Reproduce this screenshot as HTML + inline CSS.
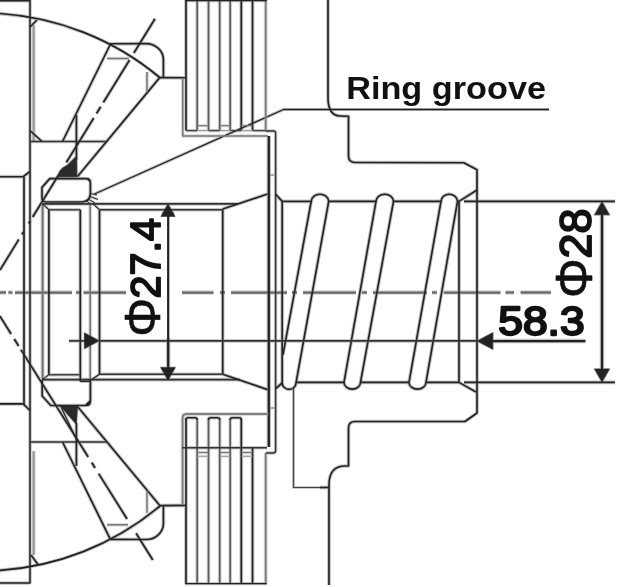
<!DOCTYPE html>
<html><head><meta charset="utf-8"><title>Ring groove</title>
<style>
html,body{margin:0;padding:0;background:#fff;}
svg{display:block;font-family:"Liberation Sans",sans-serif;}
text{fill:#111;}
</style></head><body>
<svg width="640" height="587" viewBox="0 0 640 587" stroke-linecap="butt" stroke-linejoin="round">
<rect x="-10" y="-10" width="660" height="607" fill="#fff"/>
<g opacity="0.27" stroke-linecap="butt">
<line x1="-4" y1="292.5" x2="6" y2="292.5" stroke="#666" stroke-width="4.5" />
<line x1="8.4" y1="292.5" x2="12.4" y2="292.5" stroke="#666" stroke-width="4.5" />
<line x1="15" y1="292.5" x2="72" y2="292.5" stroke="#666" stroke-width="4.5" />
<line x1="76" y1="292.5" x2="80" y2="292.5" stroke="#666" stroke-width="4.5" />
<line x1="83.6" y1="292.5" x2="140.6" y2="292.5" stroke="#666" stroke-width="4.5" />
<line x1="145" y1="292.5" x2="150" y2="292.5" stroke="#666" stroke-width="4.5" />
<line x1="156.5" y1="292.5" x2="213.5" y2="292.5" stroke="#666" stroke-width="4.5" />
<line x1="220" y1="292.5" x2="225" y2="292.5" stroke="#666" stroke-width="4.5" />
<line x1="231" y1="292.5" x2="287" y2="292.5" stroke="#666" stroke-width="4.5" />
<line x1="292" y1="292.5" x2="297" y2="292.5" stroke="#666" stroke-width="4.5" />
<line x1="303" y1="292.5" x2="356" y2="292.5" stroke="#666" stroke-width="4.5" />
<line x1="362" y1="292.5" x2="367" y2="292.5" stroke="#666" stroke-width="4.5" />
<line x1="373" y1="292.5" x2="427" y2="292.5" stroke="#666" stroke-width="4.5" />
<line x1="432" y1="292.5" x2="437" y2="292.5" stroke="#666" stroke-width="4.5" />
<line x1="443.7" y1="292.5" x2="500.5" y2="292.5" stroke="#666" stroke-width="4.5" />
<line x1="505.5" y1="292.5" x2="514" y2="292.5" stroke="#666" stroke-width="4.5" />
<line x1="520.6" y1="292.5" x2="551" y2="292.5" stroke="#666" stroke-width="4.5" />
<rect x="126" y="214" width="56" height="124" fill="#fff"/>
<line x1="-4" y1="0.75" x2="30" y2="0.75" stroke="#222" stroke-width="3.7" />
<line x1="30" y1="-4" x2="30" y2="583.5" stroke="#222" stroke-width="3.5" />
<line x1="-4" y1="583" x2="30" y2="583" stroke="#222" stroke-width="3.7" />
<line x1="33.6" y1="25" x2="33.6" y2="141" stroke="#999" stroke-width="4.5" />
<line x1="33.6" y1="451" x2="33.6" y2="555" stroke="#999" stroke-width="4.5" />
<path d="M-4,13.3 A278,278 0 0 1 159.7,77.5" stroke="#222" stroke-width="3.7" fill="none" />
<path d="M-4,570.6 A278,278 0 0 0 160,506" stroke="#222" stroke-width="3.7" fill="none" />
<path d="M110,43.8 L146,43.6 A17.5,16 0 0 1 163.4,59 L163.4,77.5 M159.7,77.6 L186,77.8" stroke="#222" stroke-width="3.7" fill="none" />
<path d="M110,539.3 L146,539.5 A17.5,16 0 0 0 163.4,523.5 L163.4,505.7 M160,505.6 L186,505.4" stroke="#222" stroke-width="3.7" fill="none" />
<line x1="110" y1="45" x2="62.5" y2="141.5" stroke="#222" stroke-width="3.7" />
<line x1="110" y1="538.6" x2="62.5" y2="442" stroke="#222" stroke-width="3.7" />
<line x1="159.7" y1="77.6" x2="77.5" y2="176.5" stroke="#222" stroke-width="3.7" />
<line x1="160" y1="505.8" x2="77.5" y2="406.5" stroke="#222" stroke-width="3.7" />
<line x1="155.0" y1="18.75" x2="133.87" y2="53" stroke="#222" stroke-width="3.7" />
<line x1="129.55" y1="60" x2="103.33" y2="102.5" stroke="#222" stroke-width="3.7" />
<line x1="100.67" y1="106.8" x2="96.54" y2="113.5" stroke="#222" stroke-width="3.7" />
<line x1="93.76" y1="118" x2="66.31" y2="162.5" stroke="#222" stroke-width="3.7" />
<line x1="59.36" y1="173.75" x2="32.68" y2="217" stroke="#222" stroke-width="3.7" />
<line x1="30.21" y1="221" x2="28.67" y2="223.5" stroke="#222" stroke-width="3.7" />
<line x1="23.42" y1="232" x2="21.88" y2="234.5" stroke="#222" stroke-width="3.7" />
<line x1="18.86" y1="239.4" x2="-0.02" y2="270" stroke="#222" stroke-width="3.7" />
<line x1="-0.19" y1="316" x2="11.1" y2="334" stroke="#222" stroke-width="3.7" />
<line x1="14.23" y1="339" x2="18.62" y2="346" stroke="#222" stroke-width="3.7" />
<line x1="20.88" y1="349.6" x2="88.22" y2="457" stroke="#222" stroke-width="3.7" />
<line x1="91.67" y1="462.5" x2="95.12" y2="468" stroke="#222" stroke-width="3.7" />
<line x1="98.63" y1="473.6" x2="127.09" y2="519" stroke="#222" stroke-width="3.7" />
<line x1="136.06" y1="533.3" x2="152.8" y2="560" stroke="#222" stroke-width="3.7" />
<line x1="107" y1="58.5" x2="129" y2="58.5" stroke="#777" stroke-width="3.5" />
<line x1="147" y1="72" x2="147" y2="92" stroke="#777" stroke-width="3.5" />
<line x1="107" y1="524.8" x2="128" y2="524.8" stroke="#777" stroke-width="3.5" />
<line x1="147" y1="490.4" x2="147" y2="512.8" stroke="#777" stroke-width="3.5" />
<line x1="30" y1="141.4" x2="107.5" y2="141.4" stroke="#333" stroke-width="3.5" />
<line x1="30" y1="442" x2="107" y2="442" stroke="#333" stroke-width="3.5" />
<line x1="30.5" y1="131" x2="42" y2="141.5" stroke="#222" stroke-width="3.7" />
<line x1="30" y1="27" x2="37" y2="20" stroke="#222" stroke-width="3.7" />
<line x1="31" y1="555" x2="38" y2="564.6" stroke="#222" stroke-width="3.7" />
<line x1="76.4" y1="115" x2="76.4" y2="160" stroke="#222" stroke-width="3.7" />
<line x1="76.4" y1="466" x2="76.4" y2="423" stroke="#222" stroke-width="3.7" />
<path d="M58,176.8 L59.6,171.8 L62,168.6 L67.5,165.2 L75.4,157.2 L76.6,156.6 L76.8,176.8 Z" stroke="#2a2a2a" stroke-width="2.3" fill="none" />
<path d="M58.3,405.6 L77.5,405.6 L76.2,424 L61.7,407.5 Z" stroke="#2a2a2a" stroke-width="2.3" fill="none" />
<line x1="61.5" y1="408" x2="77" y2="440.5" stroke="#222" stroke-width="3.1" />
<path d="M-4,176.7 L23.2,176.7 L30,171.5" stroke="#222" stroke-width="3.7" fill="none" />
<line x1="24" y1="176.7" x2="24" y2="404" stroke="#222" stroke-width="3.7" />
<path d="M-4,403.8 L23.2,403.8 L30,410.5" stroke="#222" stroke-width="3.7" fill="none" />
<path d="M42,187.4 L49.8,178.6 L86,178.6 Q90.4,178.6 90.4,183 L90.4,193.4 Q90,202 81.6,202 L46.5,202 Q42,202 42,198 Z" stroke="#222" stroke-width="3.7" fill="none" />
<path d="M42.2,380 L42.2,396 L50.8,405.5 L86,405.5 Q90.4,405.5 90.4,401 L90.4,381" stroke="#222" stroke-width="3.7" fill="none" />
<line x1="86" y1="405.2" x2="90.4" y2="401" stroke="#222" stroke-width="4.0" />
<line x1="89" y1="196" x2="98" y2="199.5" stroke="#222" stroke-width="2.7" />
<line x1="90.5" y1="193.5" x2="97" y2="195" stroke="#222" stroke-width="2.7" />
<line x1="88" y1="199" x2="95" y2="203" stroke="#222" stroke-width="2.7" />
<line x1="86" y1="200.5" x2="91" y2="204.5" stroke="#222" stroke-width="2.7" />
<line x1="87" y1="179" x2="91" y2="182" stroke="#222" stroke-width="2.7" />
<line x1="42.6" y1="203" x2="42.6" y2="380" stroke="#6e6e6e" stroke-width="4.1" />
<line x1="48.9" y1="209.7" x2="48.9" y2="374.7" stroke="#222" stroke-width="3.7" />
<line x1="80.3" y1="209.7" x2="80.3" y2="381.5" stroke="#222" stroke-width="3.7" />
<line x1="90.2" y1="203" x2="90.2" y2="381" stroke="#777" stroke-width="3.7" />
<line x1="99.5" y1="209.7" x2="99.5" y2="374.2" stroke="#222" stroke-width="3.7" />
<line x1="42" y1="203.9" x2="237.5" y2="203.9" stroke="#333" stroke-width="3.7" />
<line x1="48.9" y1="209.7" x2="80.3" y2="209.7" stroke="#444" stroke-width="3.5" />
<line x1="99.5" y1="209.7" x2="222.7" y2="209.7" stroke="#333" stroke-width="3.5" />
<line x1="42.6" y1="203.9" x2="48.9" y2="209.7" stroke="#222" stroke-width="2.9" />
<line x1="92.9" y1="203.7" x2="99.5" y2="209.7" stroke="#222" stroke-width="2.9" />
<line x1="222.7" y1="209" x2="267.5" y2="194" stroke="#222" stroke-width="3.7" />
<line x1="222.7" y1="209.4" x2="222.7" y2="374.2" stroke="#222" stroke-width="3.7" />
<line x1="42" y1="379.6" x2="240" y2="379.6" stroke="#333" stroke-width="3.7" />
<line x1="48.9" y1="374.7" x2="80.3" y2="374.7" stroke="#444" stroke-width="3.5" />
<line x1="99.5" y1="374.2" x2="222.7" y2="374.2" stroke="#333" stroke-width="3.5" />
<line x1="42.6" y1="379.6" x2="48.9" y2="374.7" stroke="#222" stroke-width="2.9" />
<line x1="99.5" y1="374.2" x2="90.2" y2="380.5" stroke="#222" stroke-width="3.1" />
<line x1="80.3" y1="381.3" x2="90.4" y2="381.3" stroke="#222" stroke-width="3.3" />
<line x1="222.7" y1="374.2" x2="267.5" y2="389.6" stroke="#222" stroke-width="3.7" />
<path d="M94.5,194 L283.5,109.5 L549,109.5" stroke="#222" stroke-width="3.2" fill="none" />
<line x1="186" y1="-4" x2="186" y2="130.6" stroke="#222" stroke-width="3.7" />
<line x1="197.2" y1="-4" x2="197.2" y2="130.6" stroke="#5a5a5a" stroke-width="3.7" />
<line x1="208.5" y1="-4" x2="208.5" y2="130.6" stroke="#5a5a5a" stroke-width="3.7" />
<line x1="219.7" y1="-4" x2="219.7" y2="130.6" stroke="#5a5a5a" stroke-width="3.7" />
<line x1="230.2" y1="-4" x2="230.2" y2="130.6" stroke="#5a5a5a" stroke-width="3.7" />
<line x1="241.3" y1="-4" x2="241.3" y2="130.6" stroke="#222" stroke-width="3.7" />
<line x1="252.5" y1="-4" x2="252.5" y2="130.6" stroke="#222" stroke-width="3.7" />
<line x1="265.7" y1="-4" x2="265.7" y2="130.6" stroke="#7a7a7a" stroke-width="3.9" />
<line x1="185" y1="0.6" x2="266.8" y2="0.6" stroke="#222" stroke-width="3.1" />
<line x1="182.75" y1="78.2" x2="182.75" y2="136" stroke="#777" stroke-width="3.5" />
<line x1="182" y1="136" x2="268" y2="136" stroke="#777" stroke-width="3.7" />
<line x1="186" y1="130.6" x2="197.2" y2="130.6" stroke="#444" stroke-width="3.3" />
<line x1="208.5" y1="130.6" x2="219.7" y2="130.6" stroke="#444" stroke-width="3.3" />
<line x1="230.2" y1="130.6" x2="241.3" y2="130.6" stroke="#444" stroke-width="3.3" />
<line x1="252.5" y1="130.6" x2="265.7" y2="130.6" stroke="#444" stroke-width="3.3" />
<line x1="197.2" y1="125.7" x2="208.5" y2="125.7" stroke="#777" stroke-width="3.1" />
<line x1="197.2" y1="130.6" x2="208.5" y2="130.6" stroke="#999" stroke-width="2.9" />
<line x1="219.7" y1="125.7" x2="230.2" y2="125.7" stroke="#777" stroke-width="3.1" />
<line x1="219.7" y1="130.6" x2="230.2" y2="130.6" stroke="#999" stroke-width="2.9" />
<line x1="241.3" y1="125.7" x2="252.5" y2="125.7" stroke="#777" stroke-width="3.1" />
<line x1="241.3" y1="130.6" x2="252.5" y2="130.6" stroke="#999" stroke-width="2.9" />
<path d="M265.7,131 L273.5,131 Q275.6,131 275.6,133 L275.6,450.5 Q275.6,453 273,453 L265.7,453" stroke="#333" stroke-width="3.4" fill="none" />
<line x1="268.8" y1="175" x2="275.6" y2="175" stroke="#777" stroke-width="2.7" />
<line x1="268.8" y1="408" x2="275.6" y2="408" stroke="#777" stroke-width="2.7" />
<line x1="268.8" y1="136" x2="268.8" y2="447" stroke="#222" stroke-width="4.5" />
<line x1="186" y1="418.5" x2="186" y2="583.6" stroke="#222" stroke-width="3.7" />
<line x1="197.2" y1="418.5" x2="197.2" y2="583.6" stroke="#5a5a5a" stroke-width="3.7" />
<line x1="208.5" y1="418.5" x2="208.5" y2="583.6" stroke="#5a5a5a" stroke-width="3.7" />
<line x1="219.7" y1="418.5" x2="219.7" y2="583.6" stroke="#5a5a5a" stroke-width="3.7" />
<line x1="230.2" y1="418.5" x2="230.2" y2="583.6" stroke="#5a5a5a" stroke-width="3.7" />
<line x1="241.3" y1="418.5" x2="241.3" y2="583.6" stroke="#222" stroke-width="3.7" />
<line x1="252.5" y1="447.8" x2="252.5" y2="583.6" stroke="#222" stroke-width="3.7" />
<line x1="265.7" y1="453" x2="265.7" y2="583.6" stroke="#7a7a7a" stroke-width="3.9" />
<line x1="185" y1="583.6" x2="266.8" y2="583.6" stroke="#222" stroke-width="3.3" />
<path d="M182.6,505 L182.6,418 Q182.6,414 187,414 L268.5,414" stroke="#808080" stroke-width="4.1" fill="none" />
<line x1="182" y1="447.8" x2="267" y2="447.8" stroke="#333" stroke-width="3.5" />
<path d="M186,420 Q186,417.8 188,417.8 L195.2,417.8 Q197.2,417.8 197.2,420" stroke="#222" stroke-width="3.5" fill="none" />
<path d="M208.5,420 Q208.5,417.8 210.5,417.8 L217.7,417.8 Q219.7,417.8 219.7,420" stroke="#222" stroke-width="3.5" fill="none" />
<path d="M230.2,420 Q230.2,417.8 232.2,417.8 L239.3,417.8 Q241.3,417.8 241.3,420" stroke="#222" stroke-width="3.5" fill="none" />
<line x1="197.2" y1="452.5" x2="208.5" y2="452.5" stroke="#777" stroke-width="3.1" />
<line x1="197.2" y1="456.3" x2="208.5" y2="456.3" stroke="#999" stroke-width="2.9" />
<line x1="219.7" y1="452.5" x2="230.2" y2="452.5" stroke="#777" stroke-width="3.1" />
<line x1="219.7" y1="456.3" x2="230.2" y2="456.3" stroke="#999" stroke-width="2.9" />
<line x1="241.3" y1="452.5" x2="252.5" y2="452.5" stroke="#777" stroke-width="3.1" />
<line x1="241.3" y1="456.3" x2="252.5" y2="456.3" stroke="#999" stroke-width="2.9" />
<path d="M328,-4 L328,97.5 Q328,115.5 340,116 L348.5,116.3 L348.5,156 Q348.5,162.5 355,162.5 L463.8,162.7 L477,169.7 L477,292" stroke="#222" stroke-width="3.7" fill="none" />
<path d="M329,585 L329,485 Q329,466 345,466 L348.5,466 L348.5,428 Q348.5,421.5 355,421.5 L465,421.5 L477,413 L477,291" stroke="#222" stroke-width="3.7" fill="none" />
<line x1="320" y1="487.5" x2="329" y2="487.5" stroke="#222" stroke-width="3.7" />
<path d="M293.5,388 L293.5,487.5 L320,487.5" stroke="#444" stroke-width="3.1" fill="none" />
<path d="M275.7,194.3 L282.2,201.4 L282.2,383" stroke="#222" stroke-width="3.7" fill="none" />
<line x1="282.2" y1="383" x2="275.7" y2="388.6" stroke="#222" stroke-width="3.7" />
<line x1="282.2" y1="201.4" x2="311.2" y2="201.4" stroke="#222" stroke-width="3.7" />
<line x1="459" y1="201.4" x2="459" y2="382.4" stroke="#222" stroke-width="3.7" />
<line x1="477" y1="190" x2="459" y2="201.4" stroke="#222" stroke-width="3.7" />
<line x1="459" y1="382.4" x2="476" y2="392" stroke="#222" stroke-width="3.7" />
<line x1="464" y1="201.4" x2="615" y2="201.4" stroke="#222" stroke-width="3.7" />
<line x1="464" y1="382.4" x2="615" y2="382.4" stroke="#222" stroke-width="3.7" />
<path d="M344,382.4 L376,201.4 A8.75,7.2 0 0 1 393.5,201.4 L360.5,382.4 A8.25,6.8 0 0 1 344,382.4" stroke="#222" stroke-width="3.7" fill="none" />
<path d="M409,382.4 L441,201.4 A8.25,7.2 0 0 1 457.5,201.4 L426,382.4 A8.5,6.8 0 0 1 409,382.4" stroke="#222" stroke-width="3.7" fill="none" />
<path d="M283,354.7 L311.2,201.4 A8.75,7.2 0 0 1 328.7,201.4 L296,383 A6.9,6.4 0 0 1 282.2,383" stroke="#222" stroke-width="3.7" fill="none" />
<line x1="328.7" y1="201.4" x2="376" y2="201.4" stroke="#222" stroke-width="3.7" />
<line x1="393.5" y1="201.4" x2="441" y2="201.4" stroke="#222" stroke-width="3.7" />
<line x1="457.5" y1="201.4" x2="459" y2="201.4" stroke="#222" stroke-width="3.7" />
<line x1="296" y1="382.4" x2="344" y2="382.4" stroke="#222" stroke-width="3.7" />
<line x1="360.5" y1="382.4" x2="409" y2="382.4" stroke="#222" stroke-width="3.7" />
<line x1="426" y1="382.4" x2="459" y2="382.4" stroke="#222" stroke-width="3.7" />
<line x1="69" y1="340.9" x2="86" y2="340.9" stroke="#222" stroke-width="3.5" />
<line x1="99" y1="340.9" x2="478" y2="340.9" stroke="#333" stroke-width="3.8" />
<path d="M99,340.75 L84.5,333 L84.5,348.6 Z" stroke="#222" stroke-width="2.0" fill="none" />
<path d="M477.3,341 L492.8,332.8 L492.8,349.2 Z" stroke="#222" stroke-width="2.0" fill="none" />
<line x1="492" y1="341" x2="585.5" y2="341" stroke="#222" stroke-width="4.5" />
<line x1="168.2" y1="210" x2="168.2" y2="375" stroke="#222" stroke-width="4.5" />
<path d="M168,204 L160.8,216.5 L175.2,216.5 Z" stroke="#222" stroke-width="2.0" fill="none" />
<path d="M168,380.2 L160.8,367.5 L175.2,367.5 Z" stroke="#222" stroke-width="2.0" fill="none" />
<line x1="602" y1="208" x2="602" y2="375" stroke="#222" stroke-width="4.5" />
<path d="M602,201.8 L594.6,214.8 L609.4,214.8 Z" stroke="#222" stroke-width="2.0" fill="none" />
<path d="M602,382 L594.6,369 L609.4,369 Z" stroke="#222" stroke-width="2.0" fill="none" />
</g>
<g>
<line x1="-4" y1="292.5" x2="6" y2="292.5" stroke="#666" stroke-width="2.25" />
<line x1="8.4" y1="292.5" x2="12.4" y2="292.5" stroke="#666" stroke-width="2.25" />
<line x1="15" y1="292.5" x2="72" y2="292.5" stroke="#666" stroke-width="2.25" />
<line x1="76" y1="292.5" x2="80" y2="292.5" stroke="#666" stroke-width="2.25" />
<line x1="83.6" y1="292.5" x2="140.6" y2="292.5" stroke="#666" stroke-width="2.25" />
<line x1="145" y1="292.5" x2="150" y2="292.5" stroke="#666" stroke-width="2.25" />
<line x1="156.5" y1="292.5" x2="213.5" y2="292.5" stroke="#666" stroke-width="2.25" />
<line x1="220" y1="292.5" x2="225" y2="292.5" stroke="#666" stroke-width="2.25" />
<line x1="231" y1="292.5" x2="287" y2="292.5" stroke="#666" stroke-width="2.25" />
<line x1="292" y1="292.5" x2="297" y2="292.5" stroke="#666" stroke-width="2.25" />
<line x1="303" y1="292.5" x2="356" y2="292.5" stroke="#666" stroke-width="2.25" />
<line x1="362" y1="292.5" x2="367" y2="292.5" stroke="#666" stroke-width="2.25" />
<line x1="373" y1="292.5" x2="427" y2="292.5" stroke="#666" stroke-width="2.25" />
<line x1="432" y1="292.5" x2="437" y2="292.5" stroke="#666" stroke-width="2.25" />
<line x1="443.7" y1="292.5" x2="500.5" y2="292.5" stroke="#666" stroke-width="2.25" />
<line x1="505.5" y1="292.5" x2="514" y2="292.5" stroke="#666" stroke-width="2.25" />
<line x1="520.6" y1="292.5" x2="551" y2="292.5" stroke="#666" stroke-width="2.25" />
<rect x="126" y="214" width="56" height="124" fill="#fff"/>
<line x1="-4" y1="0.75" x2="30" y2="0.75" stroke="#222" stroke-width="1.65" />
<line x1="30" y1="-4" x2="30" y2="583.5" stroke="#222" stroke-width="1.5" />
<line x1="-4" y1="583" x2="30" y2="583" stroke="#222" stroke-width="1.65" />
<line x1="33.6" y1="25" x2="33.6" y2="141" stroke="#999" stroke-width="2.25" />
<line x1="33.6" y1="451" x2="33.6" y2="555" stroke="#999" stroke-width="2.25" />
<path d="M-4,13.3 A278,278 0 0 1 159.7,77.5" stroke="#222" stroke-width="1.65" fill="none" />
<path d="M-4,570.6 A278,278 0 0 0 160,506" stroke="#222" stroke-width="1.65" fill="none" />
<path d="M110,43.8 L146,43.6 A17.5,16 0 0 1 163.4,59 L163.4,77.5 M159.7,77.6 L186,77.8" stroke="#222" stroke-width="1.65" fill="none" />
<path d="M110,539.3 L146,539.5 A17.5,16 0 0 0 163.4,523.5 L163.4,505.7 M160,505.6 L186,505.4" stroke="#222" stroke-width="1.65" fill="none" />
<line x1="110" y1="45" x2="62.5" y2="141.5" stroke="#222" stroke-width="1.65" />
<line x1="110" y1="538.6" x2="62.5" y2="442" stroke="#222" stroke-width="1.65" />
<line x1="159.7" y1="77.6" x2="77.5" y2="176.5" stroke="#222" stroke-width="1.65" />
<line x1="160" y1="505.8" x2="77.5" y2="406.5" stroke="#222" stroke-width="1.65" />
<line x1="155.0" y1="18.75" x2="133.87" y2="53" stroke="#222" stroke-width="1.65" />
<line x1="129.55" y1="60" x2="103.33" y2="102.5" stroke="#222" stroke-width="1.65" />
<line x1="100.67" y1="106.8" x2="96.54" y2="113.5" stroke="#222" stroke-width="1.65" />
<line x1="93.76" y1="118" x2="66.31" y2="162.5" stroke="#222" stroke-width="1.65" />
<line x1="59.36" y1="173.75" x2="32.68" y2="217" stroke="#222" stroke-width="1.65" />
<line x1="30.21" y1="221" x2="28.67" y2="223.5" stroke="#222" stroke-width="1.65" />
<line x1="23.42" y1="232" x2="21.88" y2="234.5" stroke="#222" stroke-width="1.65" />
<line x1="18.86" y1="239.4" x2="-0.02" y2="270" stroke="#222" stroke-width="1.65" />
<line x1="-0.19" y1="316" x2="11.1" y2="334" stroke="#222" stroke-width="1.65" />
<line x1="14.23" y1="339" x2="18.62" y2="346" stroke="#222" stroke-width="1.65" />
<line x1="20.88" y1="349.6" x2="88.22" y2="457" stroke="#222" stroke-width="1.65" />
<line x1="91.67" y1="462.5" x2="95.12" y2="468" stroke="#222" stroke-width="1.65" />
<line x1="98.63" y1="473.6" x2="127.09" y2="519" stroke="#222" stroke-width="1.65" />
<line x1="136.06" y1="533.3" x2="152.8" y2="560" stroke="#222" stroke-width="1.65" />
<line x1="107" y1="58.5" x2="129" y2="58.5" stroke="#777" stroke-width="1.5" />
<line x1="147" y1="72" x2="147" y2="92" stroke="#777" stroke-width="1.5" />
<line x1="107" y1="524.8" x2="128" y2="524.8" stroke="#777" stroke-width="1.5" />
<line x1="147" y1="490.4" x2="147" y2="512.8" stroke="#777" stroke-width="1.5" />
<line x1="30" y1="141.4" x2="107.5" y2="141.4" stroke="#333" stroke-width="1.5" />
<line x1="30" y1="442" x2="107" y2="442" stroke="#333" stroke-width="1.5" />
<line x1="30.5" y1="131" x2="42" y2="141.5" stroke="#222" stroke-width="1.65" />
<line x1="30" y1="27" x2="37" y2="20" stroke="#222" stroke-width="1.65" />
<line x1="31" y1="555" x2="38" y2="564.6" stroke="#222" stroke-width="1.65" />
<line x1="76.4" y1="115" x2="76.4" y2="160" stroke="#222" stroke-width="1.65" />
<line x1="76.4" y1="466" x2="76.4" y2="423" stroke="#222" stroke-width="1.65" />
<path d="M58,176.8 L59.6,171.8 L62,168.6 L67.5,165.2 L75.4,157.2 L76.6,156.6 L76.8,176.8 Z" stroke="#2a2a2a" stroke-width="0.8" fill="#2a2a2a" />
<path d="M58.3,405.6 L77.5,405.6 L76.2,424 L61.7,407.5 Z" stroke="#2a2a2a" stroke-width="0.8" fill="#2a2a2a" />
<line x1="61.5" y1="408" x2="77" y2="440.5" stroke="#222" stroke-width="1.2" />
<path d="M-4,176.7 L23.2,176.7 L30,171.5" stroke="#222" stroke-width="1.65" fill="none" />
<line x1="24" y1="176.7" x2="24" y2="404" stroke="#222" stroke-width="1.65" />
<path d="M-4,403.8 L23.2,403.8 L30,410.5" stroke="#222" stroke-width="1.65" fill="none" />
<path d="M42,187.4 L49.8,178.6 L86,178.6 Q90.4,178.6 90.4,183 L90.4,193.4 Q90,202 81.6,202 L46.5,202 Q42,202 42,198 Z" stroke="#222" stroke-width="1.65" fill="none" />
<path d="M42.2,380 L42.2,396 L50.8,405.5 L86,405.5 Q90.4,405.5 90.4,401 L90.4,381" stroke="#222" stroke-width="1.65" fill="none" />
<line x1="86" y1="405.2" x2="90.4" y2="401" stroke="#222" stroke-width="1.88" />
<line x1="89" y1="196" x2="98" y2="199.5" stroke="#222" stroke-width="0.9" />
<line x1="90.5" y1="193.5" x2="97" y2="195" stroke="#222" stroke-width="0.9" />
<line x1="88" y1="199" x2="95" y2="203" stroke="#222" stroke-width="0.9" />
<line x1="86" y1="200.5" x2="91" y2="204.5" stroke="#222" stroke-width="0.9" />
<line x1="87" y1="179" x2="91" y2="182" stroke="#222" stroke-width="0.9" />
<line x1="42.6" y1="203" x2="42.6" y2="380" stroke="#6e6e6e" stroke-width="1.95" />
<line x1="48.9" y1="209.7" x2="48.9" y2="374.7" stroke="#222" stroke-width="1.65" />
<line x1="80.3" y1="209.7" x2="80.3" y2="381.5" stroke="#222" stroke-width="1.65" />
<line x1="90.2" y1="203" x2="90.2" y2="381" stroke="#777" stroke-width="1.65" />
<line x1="99.5" y1="209.7" x2="99.5" y2="374.2" stroke="#222" stroke-width="1.65" />
<line x1="42" y1="203.9" x2="237.5" y2="203.9" stroke="#333" stroke-width="1.65" />
<line x1="48.9" y1="209.7" x2="80.3" y2="209.7" stroke="#444" stroke-width="1.5" />
<line x1="99.5" y1="209.7" x2="222.7" y2="209.7" stroke="#333" stroke-width="1.5" />
<line x1="42.6" y1="203.9" x2="48.9" y2="209.7" stroke="#222" stroke-width="1.05" />
<line x1="92.9" y1="203.7" x2="99.5" y2="209.7" stroke="#222" stroke-width="1.05" />
<line x1="222.7" y1="209" x2="267.5" y2="194" stroke="#222" stroke-width="1.65" />
<line x1="222.7" y1="209.4" x2="222.7" y2="374.2" stroke="#222" stroke-width="1.65" />
<line x1="42" y1="379.6" x2="240" y2="379.6" stroke="#333" stroke-width="1.65" />
<line x1="48.9" y1="374.7" x2="80.3" y2="374.7" stroke="#444" stroke-width="1.5" />
<line x1="99.5" y1="374.2" x2="222.7" y2="374.2" stroke="#333" stroke-width="1.5" />
<line x1="42.6" y1="379.6" x2="48.9" y2="374.7" stroke="#222" stroke-width="1.05" />
<line x1="99.5" y1="374.2" x2="90.2" y2="380.5" stroke="#222" stroke-width="1.2" />
<line x1="80.3" y1="381.3" x2="90.4" y2="381.3" stroke="#222" stroke-width="1.35" />
<line x1="222.7" y1="374.2" x2="267.5" y2="389.6" stroke="#222" stroke-width="1.65" />
<path d="M94.5,194 L283.5,109.5 L549,109.5" stroke="#222" stroke-width="1.27" fill="none" />
<line x1="186" y1="-4" x2="186" y2="130.6" stroke="#222" stroke-width="1.65" />
<line x1="197.2" y1="-4" x2="197.2" y2="130.6" stroke="#5a5a5a" stroke-width="1.65" />
<line x1="208.5" y1="-4" x2="208.5" y2="130.6" stroke="#5a5a5a" stroke-width="1.65" />
<line x1="219.7" y1="-4" x2="219.7" y2="130.6" stroke="#5a5a5a" stroke-width="1.65" />
<line x1="230.2" y1="-4" x2="230.2" y2="130.6" stroke="#5a5a5a" stroke-width="1.65" />
<line x1="241.3" y1="-4" x2="241.3" y2="130.6" stroke="#222" stroke-width="1.65" />
<line x1="252.5" y1="-4" x2="252.5" y2="130.6" stroke="#222" stroke-width="1.65" />
<line x1="265.7" y1="-4" x2="265.7" y2="130.6" stroke="#7a7a7a" stroke-width="1.8" />
<line x1="185" y1="0.6" x2="266.8" y2="0.6" stroke="#222" stroke-width="1.2" />
<line x1="182.75" y1="78.2" x2="182.75" y2="136" stroke="#777" stroke-width="1.5" />
<line x1="182" y1="136" x2="268" y2="136" stroke="#777" stroke-width="1.65" />
<line x1="186" y1="130.6" x2="197.2" y2="130.6" stroke="#444" stroke-width="1.35" />
<line x1="208.5" y1="130.6" x2="219.7" y2="130.6" stroke="#444" stroke-width="1.35" />
<line x1="230.2" y1="130.6" x2="241.3" y2="130.6" stroke="#444" stroke-width="1.35" />
<line x1="252.5" y1="130.6" x2="265.7" y2="130.6" stroke="#444" stroke-width="1.35" />
<line x1="197.2" y1="125.7" x2="208.5" y2="125.7" stroke="#777" stroke-width="1.2" />
<line x1="197.2" y1="130.6" x2="208.5" y2="130.6" stroke="#999" stroke-width="1.05" />
<line x1="219.7" y1="125.7" x2="230.2" y2="125.7" stroke="#777" stroke-width="1.2" />
<line x1="219.7" y1="130.6" x2="230.2" y2="130.6" stroke="#999" stroke-width="1.05" />
<line x1="241.3" y1="125.7" x2="252.5" y2="125.7" stroke="#777" stroke-width="1.2" />
<line x1="241.3" y1="130.6" x2="252.5" y2="130.6" stroke="#999" stroke-width="1.05" />
<path d="M265.7,131 L273.5,131 Q275.6,131 275.6,133 L275.6,450.5 Q275.6,453 273,453 L265.7,453" stroke="#333" stroke-width="1.42" fill="none" />
<line x1="268.8" y1="175" x2="275.6" y2="175" stroke="#777" stroke-width="0.9" />
<line x1="268.8" y1="408" x2="275.6" y2="408" stroke="#777" stroke-width="0.9" />
<line x1="268.8" y1="136" x2="268.8" y2="447" stroke="#222" stroke-width="2.25" />
<line x1="186" y1="418.5" x2="186" y2="583.6" stroke="#222" stroke-width="1.65" />
<line x1="197.2" y1="418.5" x2="197.2" y2="583.6" stroke="#5a5a5a" stroke-width="1.65" />
<line x1="208.5" y1="418.5" x2="208.5" y2="583.6" stroke="#5a5a5a" stroke-width="1.65" />
<line x1="219.7" y1="418.5" x2="219.7" y2="583.6" stroke="#5a5a5a" stroke-width="1.65" />
<line x1="230.2" y1="418.5" x2="230.2" y2="583.6" stroke="#5a5a5a" stroke-width="1.65" />
<line x1="241.3" y1="418.5" x2="241.3" y2="583.6" stroke="#222" stroke-width="1.65" />
<line x1="252.5" y1="447.8" x2="252.5" y2="583.6" stroke="#222" stroke-width="1.65" />
<line x1="265.7" y1="453" x2="265.7" y2="583.6" stroke="#7a7a7a" stroke-width="1.8" />
<line x1="185" y1="583.6" x2="266.8" y2="583.6" stroke="#222" stroke-width="1.35" />
<path d="M182.6,505 L182.6,418 Q182.6,414 187,414 L268.5,414" stroke="#808080" stroke-width="1.95" fill="none" />
<line x1="182" y1="447.8" x2="267" y2="447.8" stroke="#333" stroke-width="1.5" />
<path d="M186,420 Q186,417.8 188,417.8 L195.2,417.8 Q197.2,417.8 197.2,420" stroke="#222" stroke-width="1.5" fill="none" />
<path d="M208.5,420 Q208.5,417.8 210.5,417.8 L217.7,417.8 Q219.7,417.8 219.7,420" stroke="#222" stroke-width="1.5" fill="none" />
<path d="M230.2,420 Q230.2,417.8 232.2,417.8 L239.3,417.8 Q241.3,417.8 241.3,420" stroke="#222" stroke-width="1.5" fill="none" />
<line x1="197.2" y1="452.5" x2="208.5" y2="452.5" stroke="#777" stroke-width="1.2" />
<line x1="197.2" y1="456.3" x2="208.5" y2="456.3" stroke="#999" stroke-width="1.05" />
<line x1="219.7" y1="452.5" x2="230.2" y2="452.5" stroke="#777" stroke-width="1.2" />
<line x1="219.7" y1="456.3" x2="230.2" y2="456.3" stroke="#999" stroke-width="1.05" />
<line x1="241.3" y1="452.5" x2="252.5" y2="452.5" stroke="#777" stroke-width="1.2" />
<line x1="241.3" y1="456.3" x2="252.5" y2="456.3" stroke="#999" stroke-width="1.05" />
<path d="M328,-4 L328,97.5 Q328,115.5 340,116 L348.5,116.3 L348.5,156 Q348.5,162.5 355,162.5 L463.8,162.7 L477,169.7 L477,292" stroke="#222" stroke-width="1.65" fill="none" />
<path d="M329,585 L329,485 Q329,466 345,466 L348.5,466 L348.5,428 Q348.5,421.5 355,421.5 L465,421.5 L477,413 L477,291" stroke="#222" stroke-width="1.65" fill="none" />
<line x1="320" y1="487.5" x2="329" y2="487.5" stroke="#222" stroke-width="1.65" />
<path d="M293.5,388 L293.5,487.5 L320,487.5" stroke="#444" stroke-width="1.2" fill="none" />
<path d="M275.7,194.3 L282.2,201.4 L282.2,383" stroke="#222" stroke-width="1.65" fill="none" />
<line x1="282.2" y1="383" x2="275.7" y2="388.6" stroke="#222" stroke-width="1.65" />
<line x1="282.2" y1="201.4" x2="311.2" y2="201.4" stroke="#222" stroke-width="1.65" />
<line x1="459" y1="201.4" x2="459" y2="382.4" stroke="#222" stroke-width="1.65" />
<line x1="477" y1="190" x2="459" y2="201.4" stroke="#222" stroke-width="1.65" />
<line x1="459" y1="382.4" x2="476" y2="392" stroke="#222" stroke-width="1.65" />
<line x1="464" y1="201.4" x2="615" y2="201.4" stroke="#222" stroke-width="1.65" />
<line x1="464" y1="382.4" x2="615" y2="382.4" stroke="#222" stroke-width="1.65" />
<path d="M344,382.4 L376,201.4 A8.75,7.2 0 0 1 393.5,201.4 L360.5,382.4 A8.25,6.8 0 0 1 344,382.4" stroke="#222" stroke-width="1.65" fill="none" />
<path d="M409,382.4 L441,201.4 A8.25,7.2 0 0 1 457.5,201.4 L426,382.4 A8.5,6.8 0 0 1 409,382.4" stroke="#222" stroke-width="1.65" fill="none" />
<path d="M283,354.7 L311.2,201.4 A8.75,7.2 0 0 1 328.7,201.4 L296,383 A6.9,6.4 0 0 1 282.2,383" stroke="#222" stroke-width="1.65" fill="none" />
<line x1="328.7" y1="201.4" x2="376" y2="201.4" stroke="#222" stroke-width="1.65" />
<line x1="393.5" y1="201.4" x2="441" y2="201.4" stroke="#222" stroke-width="1.65" />
<line x1="457.5" y1="201.4" x2="459" y2="201.4" stroke="#222" stroke-width="1.65" />
<line x1="296" y1="382.4" x2="344" y2="382.4" stroke="#222" stroke-width="1.65" />
<line x1="360.5" y1="382.4" x2="409" y2="382.4" stroke="#222" stroke-width="1.65" />
<line x1="426" y1="382.4" x2="459" y2="382.4" stroke="#222" stroke-width="1.65" />
<line x1="69" y1="340.9" x2="86" y2="340.9" stroke="#222" stroke-width="1.5" />
<line x1="99" y1="340.9" x2="478" y2="340.9" stroke="#333" stroke-width="1.72" />
<path d="M99,340.75 L84.5,333 L84.5,348.6 Z" stroke="#222" stroke-width="0.5" fill="#222" />
<path d="M477.3,341 L492.8,332.8 L492.8,349.2 Z" stroke="#222" stroke-width="0.5" fill="#222" />
<line x1="492" y1="341" x2="585.5" y2="341" stroke="#222" stroke-width="2.25" />
<line x1="168.2" y1="210" x2="168.2" y2="375" stroke="#222" stroke-width="2.25" />
<path d="M168,204 L160.8,216.5 L175.2,216.5 Z" stroke="#222" stroke-width="0.5" fill="#222" />
<path d="M168,380.2 L160.8,367.5 L175.2,367.5 Z" stroke="#222" stroke-width="0.5" fill="#222" />
<line x1="602" y1="208" x2="602" y2="375" stroke="#222" stroke-width="2.25" />
<path d="M602,201.8 L594.6,214.8 L609.4,214.8 Z" stroke="#222" stroke-width="0.5" fill="#222" />
<path d="M602,382 L594.6,369 L609.4,369 Z" stroke="#222" stroke-width="0.5" fill="#222" />
<g opacity="0.999">
<text x="346.2" y="99.3" font-size="30.5" font-weight="bold" textLength="199.8" lengthAdjust="spacingAndGlyphs">Ring groove</text>
<text x="498.3" y="335" font-size="41.3" stroke="#111" stroke-width="2.3" textLength="86.3" lengthAdjust="spacingAndGlyphs">58.3</text>
<text transform="translate(160,336.8) rotate(-90) scale(0.97,1)" font-size="50.5" stroke="#111" stroke-width="0.7">Φ</text>
<text transform="translate(159.6,298.5) rotate(-90)" font-size="42" stroke="#111" stroke-width="1.9" textLength="80.5" lengthAdjust="spacingAndGlyphs">27.4</text>
<text transform="translate(591.8,298) rotate(-90) scale(0.96,1)" font-size="52" stroke="#111" stroke-width="0.7">Φ</text>
<text transform="translate(591,258.4) rotate(-90)" font-size="43.5" stroke="#111" stroke-width="1.9" textLength="49.8" lengthAdjust="spacingAndGlyphs">28</text>
</g>
</g>
</svg>
</body></html>
